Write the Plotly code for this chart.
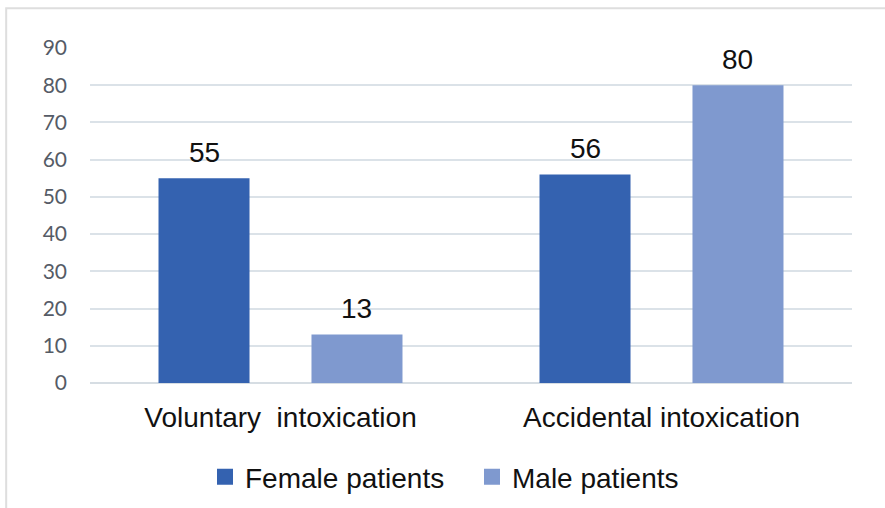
import plotly.graph_objects as go

categories = ["Voluntary\u00a0 intoxication", "Accidental intoxication"]
female = [55, 56]
male = [13, 80]
y_ticks = [0, 10, 20, 30, 40, 50, 60, 70, 80, 90]

female_color = "#3462b0"
male_color = "#7f99cf"
label_font = dict(family="Liberation Sans, Arial", size=28, color="#111111")

fig = go.Figure()
fig.add_trace(go.Bar(name="Female patients", x=categories, y=female,
                     marker=dict(color=female_color, line=dict(width=0)), showlegend=False))
fig.add_trace(go.Bar(name="Male patients", x=categories, y=male,
                     marker=dict(color=male_color, line=dict(width=0)), showlegend=False))

# legend entries with larger square swatches
for name, col in [("Female patients", female_color), ("Male patients", male_color)]:
    fig.add_trace(go.Scatter(x=[None], y=[None], mode="markers", name=name,
                             marker=dict(symbol="square", size=17, color=col)))

# value labels above bars
group_offset = 0.2
for vals, off in [(female, -group_offset), (male, group_offset)]:
    for i, v in enumerate(vals):
        fig.add_annotation(x=i + off, y=v, text=str(v), showarrow=False,
                           yanchor="middle", yshift=26, font=label_font)

fig.update_layout(
    width=885, height=508,
    margin=dict(l=90, r=33, t=48, b=125, autoexpand=False),
    paper_bgcolor="white", plot_bgcolor="white",
    barmode="group", bargap=0.197, bargroupgap=0.405,
    showlegend=True,
    legend=dict(orientation="h", x=(205 - 90) / 762, xanchor="left", y=-0.281, yanchor="middle",
                font=label_font, entrywidth=222, entrywidthmode="pixels", traceorder="normal"),
    xaxis=dict(tickfont=label_font, showgrid=False, showline=False, ticks="",
               automargin=False, ticklabelstandoff=15),
    yaxis=dict(range=[0, 90], tickvals=y_ticks, showgrid=True, gridcolor="#dbe2e8",
               gridwidth=1.5, zeroline=True, zerolinecolor="#d6dde3", zerolinewidth=1.5,
               tickfont=dict(family="Lato, Open Sans", size=21, color="#555b66"),
               ticks="", ticklen=0, automargin=False, ticklabelstandoff=22),
    shapes=[dict(type="rect", xref="paper", yref="paper", x0=-0.110, x1=1.2, y0=-0.6, y1=1.119,
                 line=dict(color="#dedede", width=2), fillcolor="rgba(0,0,0,0)", layer="below")],
)

fig.write_html("out.html", config={"displayModeBar": False},
               post_script="document.body.style.margin='0';document.body.style.overflow='hidden';")
